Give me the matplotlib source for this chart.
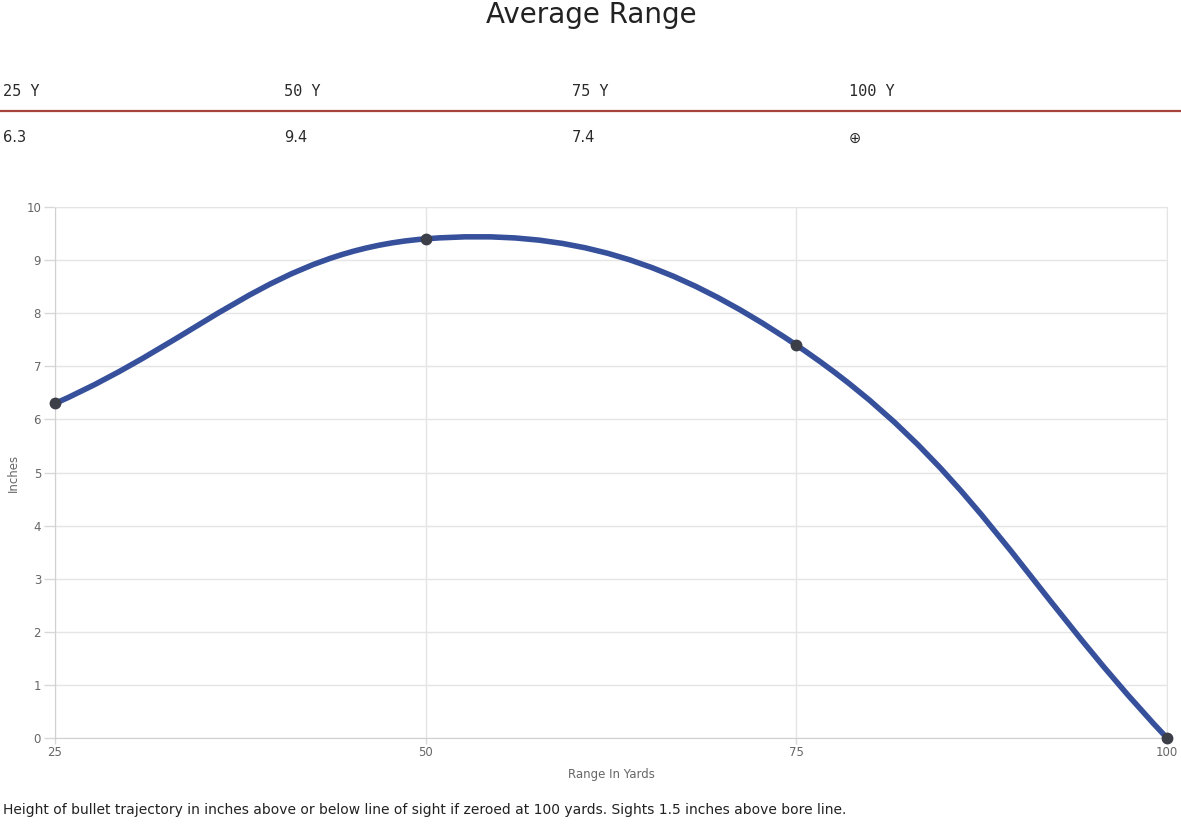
import numpy as np
import matplotlib
matplotlib.use("Agg")
import matplotlib.pyplot as plt
from matplotlib.path import Path
from matplotlib.patches import PathPatch

# data
ranges = [25, 50, 75, 100]
heights = [6.3, 9.4, 7.4, 0.0]
header_labels = ["25 Y", "50 Y", "75 Y", "100 Y"]
header_values = ["6.3", "9.4", "7.4", "\u2295"]
y_ticks = list(range(0, 11))

title = "Average Range"
note = ("Height of bullet trajectory in inches above or below line of sight "
        "if zeroed at 100 yards. Sights 1.5 inches above bore line.")

line_color = "#36509c"
point_color = "#3d3f48"
grid_color = "#e5e5e5"
tick_color = "#666666"

W, H = 1181, 824
fig = plt.figure(figsize=(W / 100, H / 100), dpi=100)


def fx(px):
    return px / W


def fy(py):
    return 1 - py / H


# title and header table
fig.text(fx(591), fy(15), title, ha="center", va="center", fontsize=20,
         family="DejaVu Sans", color="#222222")
header_x = [3, 284, 572, 849]
for x, lab, val in zip(header_x, header_labels, header_values):
    fig.text(fx(x), fy(91), lab, ha="left", va="center", fontsize=11,
             family="DejaVu Sans Mono", color="#2a2a2a")
    fig.text(fx(x), fy(138), val, ha="left", va="center", fontsize=10.5,
             family="DejaVu Sans", color="#2a2a2a")
fig.add_artist(plt.Line2D([0, 1], [fy(111), fy(111)], color="#a4443a",
                          linewidth=1.6, transform=fig.transFigure))

fig.text(fx(3), fy(810), note, ha="left", va="center", fontsize=10,
         family=["Liberation Sans Narrow", "DejaVu Sans"], color="#222222")

# chart
ax = fig.add_axes([fx(55), fy(738), fx(1167) - fx(55), fy(207) - fy(738)])
ax.set_xlim(ranges[0], ranges[-1])
ax.set_ylim(0, 10)
ax.set_xticks(ranges)
ax.set_yticks(y_ticks)
ax.grid(True, color=grid_color, linewidth=1)
ax.set_axisbelow(True)
for s in ["top", "right"]:
    ax.spines[s].set_color(grid_color)
for s in ["left", "bottom"]:
    ax.spines[s].set_color("#d0d0d0")
ax.tick_params(axis="both", colors="#d8d8d8", labelcolor=tick_color,
               labelsize=8.5, width=1)
ax.tick_params(axis="y", length=8, pad=2)
ax.tick_params(axis="x", length=4, pad=2)
ax.set_xlabel("Range In Yards", fontsize=8.5, color=tick_color, labelpad=6)
ax.set_ylabel("Inches", fontsize=8.5, color=tick_color)
ax.yaxis.set_label_coords((20 - 55) / 1112, 0.5)

# smooth line like chart.js (tension 0.4), computed in display space
fig.canvas.draw()
pts = ax.transData.transform(np.column_stack([ranges, heights]))
t = 0.4
n = len(pts)
cps = []
for i in range(n):
    prev = pts[max(i - 1, 0)]
    cur = pts[i]
    nxt = pts[min(i + 1, n - 1)]
    d01 = np.hypot(*(cur - prev))
    d12 = np.hypot(*(nxt - cur))
    tot = d01 + d12
    s01 = d01 / tot if tot else 0
    s12 = d12 / tot if tot else 0
    cps.append((cur - t * s01 * (nxt - prev), cur + t * s12 * (nxt - prev)))

verts = [pts[0]]
codes = [Path.MOVETO]
for i in range(n - 1):
    verts += [cps[i][1], cps[i + 1][0], pts[i + 1]]
    codes += [Path.CURVE4] * 3
verts = ax.transData.inverted().transform(np.array(verts))
patch = PathPatch(Path(verts, codes), facecolor="none", edgecolor=line_color,
                  linewidth=4, capstyle="round", joinstyle="round",
                  clip_on=False, zorder=3)
ax.add_patch(patch)
ax.plot(ranges, heights, "o", color=point_color, markersize=7.5,
        clip_on=False, zorder=4)

fig.savefig("out.png", dpi=100)
